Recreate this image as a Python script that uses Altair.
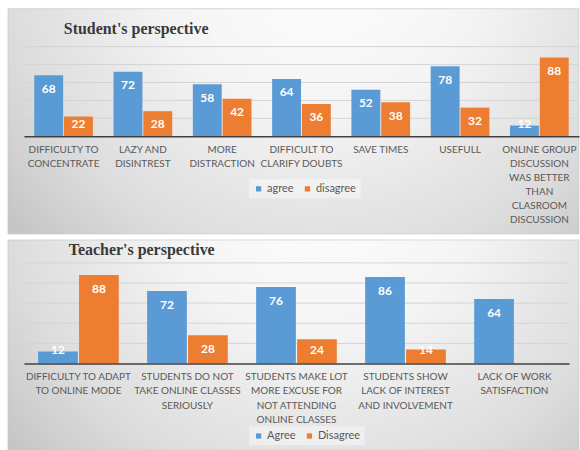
import altair as alt
import pandas as pd

# ---------------- data ----------------
S_TITLE = "Student's perspective"
S_CATS = [
    "DIFFICULTY TO\nCONCENTRATE",
    "LAZY AND\nDISINTREST",
    "MORE\nDISTRACTION",
    "DIFFICULT TO\nCLARIFY DOUBTS",
    "SAVE TIMES",
    "USEFULL",
    "ONLINE GROUP\nDISCUSSION\nWAS BETTER\nTHAN\nCLASROOM\nDISCUSSION",
]
S_SERIES = ["agree", "disagree"]
S_AGREE = [68, 72, 58, 64, 52, 78, 12]
S_DISAGREE = [22, 28, 42, 36, 38, 32, 88]

T_TITLE = "Teacher's perspective"
T_CATS = [
    "DIFFICULTY TO ADAPT\nTO ONLINE MODE",
    "STUDENTS DO NOT\nTAKE ONLINE CLASSES\nSERIOUSLY",
    "STUDENTS MAKE LOT\nMORE EXCUSE FOR\nNOT ATTENDING\nONLINE CLASSES",
    "STUDENTS SHOW\nLACK OF INTEREST\nAND INVOLVEMENT",
    "LACK OF WORK\nSATISFACTION",
]
T_SERIES = ["Agree", "Disagree"]
T_AGREE = [12, 72, 76, 86, 64]
T_DISAGREE = [88, 28, 24, 14, None]

GRID_VALUES = [20, 40, 60, 80, 100]
COLORS = ["#5B9BD5", "#ED7D31"]

PAD_INNER = 0.26
PAD_OUTER = 0.13


def make_df(cats, series, a, d):
    rows = []
    for c, va, vd in zip(cats, a, d):
        rows.append({"cat": c, "series": series[0], "value": va})
        rows.append({"cat": c, "series": series[1], "value": vd})
    return pd.DataFrame(rows)


def bg_fill():
    return alt.RadialGradient(
        gradient="radial",
        x1=0.55, y1=0.2, r1=0,
        x2=0.55, y2=0.2, r2=0.72,
        stops=[
            alt.GradientStop(offset=0, color="#ffffff"),
            alt.GradientStop(offset=0.4, color="#f4f4f4"),
            alt.GradientStop(offset=0.78, color="#dcdcdc"),
            alt.GradientStop(offset=1, color="#c6c6c6"),
        ],
    )


def panel(title, cats, series, a, d, width, height, bg_right, bg_top, bg_bottom,
          title_x, title_y, leg_x, leg_y, lab_top_px, lab_min_px, line_h):
    df = make_df(cats, series, a, d)
    unit = height / 100.0
    k_top = lab_top_px / unit
    k_min = lab_min_px / unit
    n = len(cats)
    step = width / (n - PAD_INNER + 2 * PAD_OUTER)
    bandwidth = step * (1 - PAD_INNER)

    x_enc = alt.X(
        "cat:N", sort=cats, title=None,
        scale=alt.Scale(type="band", paddingInner=PAD_INNER, paddingOuter=PAD_OUTER),
        axis=alt.Axis(
            labelAngle=0, labelExpr="split(datum.value, '\\n')",
            labelFont="Lato", labelFontSize=10, labelColor="#595959",
            labelLineHeight=line_h, labelPadding=8, labelLimit=200,
            ticks=False, domain=True, domainColor="#404040", domainWidth=1.6,
            grid=False, zindex=1, labelOverlap=False,
        ),
    )
    xoff = alt.XOffset(
        "series:N", sort=series,
        scale=alt.Scale(type="band", domain=series, range=[0, bandwidth],
                        paddingInner=0.03, paddingOuter=0),
    )
    y_scale = alt.Scale(domain=[0, 100], nice=False)

    bg = alt.Chart(pd.DataFrame({"panel": [title]})).mark_rect(
        fill=bg_fill(), stroke="#c4c4c4", strokeWidth=0.6
    ).encode(
        x=alt.value(-16), x2=alt.value(bg_right),
        y=alt.value(bg_top), y2=alt.value(bg_bottom),
    )

    ttl = alt.Chart(pd.DataFrame({"t": [title]})).mark_text(
        font="Liberation Serif", fontSize=16, fontWeight="bold",
        color="#3a3a3a", align="left", baseline="middle",
    ).encode(x=alt.value(title_x), y=alt.value(title_y), text="t:N")

    grid = alt.Chart(pd.DataFrame({"v": GRID_VALUES})).mark_rule(
        color="#d4d4d4", strokeWidth=1
    ).encode(y=alt.Y("v:Q", scale=y_scale, axis=None))

    bars = alt.Chart(df).mark_bar().encode(
        x=x_enc,
        xOffset=xoff,
        y=alt.Y("value:Q", scale=y_scale, axis=None),
        color=alt.Color(
            "series:N", sort=series,
            scale=alt.Scale(domain=series, range=COLORS),
            legend=alt.Legend(
                title=None, orient="none", legendX=leg_x, legendY=leg_y,
                direction="horizontal", symbolType="square", symbolSize=28,
                symbolStrokeWidth=0,
                labelFont="Lato", labelFontSize=11, labelColor="#595959",
                columnPadding=8, labelOffset=3, padding=4,
                fillColor="rgba(255,255,255,0.4)", zindex=1,
            ),
        ),
    )

    text = alt.Chart(df).transform_filter(
        "isValid(datum.value)"
    ).transform_calculate(
        lpos=f"max(datum.value - {k_top}, {k_min})"
    ).mark_text(
        color="white", font="Lato", fontWeight="bold", fontSize=12,
        baseline="middle", align="center",
    ).encode(
        x=x_enc, xOffset=xoff,
        y=alt.Y("lpos:Q", scale=y_scale, axis=None),
        text=alt.Text("value:Q"),
    )

    return alt.layer(bg, ttl, grid, bars, text).properties(
        width=width, height=height,
    )


top = panel(S_TITLE, S_CATS, S_SERIES, S_AGREE, S_DISAGREE,
            width=557, height=90, bg_right=557, bg_top=-38, bg_bottom=188,
            title_x=40, title_y=-18, leg_x=226, leg_y=133,
            lab_top_px=13.5, lab_min_px=12, line_h=14)

bottom = panel(T_TITLE, T_CATS, T_SERIES, T_AGREE, T_DISAGREE,
               width=547, height=101, bg_right=557, bg_top=-23, bg_bottom=188,
               title_x=45, title_y=-13, leg_x=226, leg_y=164,
               lab_top_px=14, lab_min_px=14, line_h=14.5)

chart = alt.vconcat(top, bottom, spacing=4).resolve_scale(
    color="independent", x="independent", y="independent",
    xOffset="independent",
).resolve_legend(color="independent").properties(
    padding={"left": 7, "top": 7, "right": 0, "bottom": 0},
    background="white",
).configure_view(stroke=None)

chart.save("out.html", embed_options={"renderer": "svg", "actions": False})
